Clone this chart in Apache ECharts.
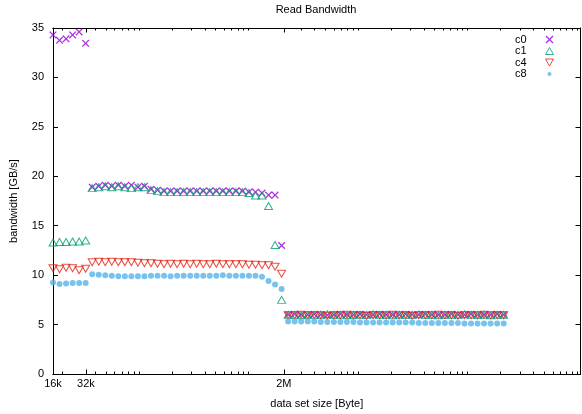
<!DOCTYPE html>
<html><head><meta charset="utf-8">
<script src="https://cdn.jsdelivr.net/npm/echarts@6/dist/echarts.min.js"></script>
<style>html,body{margin:0;padding:0;background:#fff}#c{width:582px;height:414px}</style>
</head><body><div id="c"></div>
<script>
// data set sizes [Byte]
const sizes = [16384,18796,21563,24737,28378,32555,37347,42845,49151,56386,
  64686,74208,85132,97663,112039,128531,147451,169156,194055,222620,
  255390,292984,336111,385586,442345,507458,582155,667849,766156,878934,
  1008313,1156737,1327009,1522345,1746434,2003509,2298425,2636753,3024883,3470146,
  3980951,4566947,5239202,6010412,6895145,7910110,9074478,10410241,11942628,13700583,
  15717309,18030897,20685045,23729884,27222923,31230137,35827213,41100979,47151043,54091677,
  62053972,71188317,81667237,93688674,107479647,123300651,141450507,162272022,186158463,213561009];

const c0 = [34.3,33.75,33.9,34.3,34.6,33.45,
  18.9,19.0,19.1,19.0,19.1,19.0,19.1,18.9,19.0,18.7,18.6,18.5,18.5,18.5,
  18.5,18.5,18.5,18.5,18.5,18.5,18.5,18.5,18.5,18.5,18.4,18.4,18.3,18.1,18.1,
  13.0,
  6.0,6.05,6.0,6.0,6.05,6.0,5.95,6.0,6.05,6.0,6.0,6.05,6.0,6.0,6.05,6.0,6.0,
  6.0,6.05,6.0,6.0,6.05,6.0,6.0,6.0,6.05,6.0,6.0,6.05,6.0,6.0,6.0,6.05,6.0];
const c1 = [13.3,13.35,13.35,13.4,13.4,13.5,
  18.8,18.9,19.0,18.9,19.0,18.9,18.8,18.9,18.9,18.6,18.5,18.4,18.4,18.4,
  18.4,18.4,18.4,18.4,18.4,18.4,18.4,18.4,18.4,18.4,18.3,18.05,18.05,17.0,13.05,
  7.5,
  6.0,6.0,5.95,6.0,6.0,6.0,6.05,6.0,6.0,5.95,6.0,6.0,6.0,6.05,6.0,6.0,5.95,
  6.0,6.0,6.0,6.05,6.0,6.0,5.95,6.0,6.0,6.0,6.05,6.0,6.0,6.0,5.95,6.0,6.0];
const c4 = [10.7,10.6,10.75,10.7,10.5,10.65,
  11.3,11.35,11.3,11.35,11.3,11.3,11.3,11.25,11.2,11.2,11.15,11.1,11.15,11.1,
  11.15,11.1,11.15,11.1,11.1,11.15,11.1,11.1,11.1,11.1,11.05,11.05,11.0,11.0,10.85,
  10.15,
  5.95,5.95,6.0,5.95,5.95,5.95,5.9,5.95,5.95,6.0,5.95,5.95,5.9,5.95,5.95,5.95,6.0,
  5.95,5.95,5.9,5.95,5.95,5.95,6.0,5.95,5.95,5.9,5.95,5.95,5.95,6.0,5.95,5.95,5.95];
const c8 = [9.25,9.1,9.15,9.2,9.2,9.2,
  10.1,10.05,10.0,9.95,9.9,9.9,9.9,9.9,9.9,9.95,9.95,9.95,9.9,9.95,
  9.95,9.95,9.95,9.95,9.95,9.95,10.0,9.95,9.95,9.95,9.95,9.95,9.85,9.4,9.05,
  8.6,
  5.3,5.3,5.3,5.3,5.3,5.25,5.25,5.25,5.25,5.25,5.25,5.2,5.2,5.2,5.2,5.2,5.2,
  5.2,5.2,5.2,5.15,5.15,5.15,5.15,5.15,5.15,5.15,5.1,5.1,5.1,5.1,5.1,5.1,5.1];

const xLabelValues = [16384, 32768, 2097152];
const xLabelTexts = ['16k', '32k', '2M'];
const xMinorTicks = [2e4,4e4,5e4,6e4,7e4,8e4,9e4,1e5,
  2e5,3e5,4e5,5e5,6e5,7e5,8e5,9e5,1e6,
  3e6,4e6,5e6,6e6,7e6,8e6,9e6,1e7,
  2e7,3e7,4e7,5e7,6e7,7e7,8e7,9e7,1e8,
  2e8,3e8,4e8,5e8,6e8,7e8,8e8,9e8,1e9];
const seriesNames = ['c0', 'c1', 'c4', 'c8'];
const seriesColors = ['#9400d3', '#009e73', '#e51e10', '#56b4e9'];

const FONT = "'Liberation Sans', Arial, Helvetica, sans-serif";
const chart = echarts.init(document.getElementById('c'), null, {renderer: 'canvas'});

function fmtX(v) {
  for (let i = 0; i < xLabelValues.length; i++) {
    if (Math.abs(v - xLabelValues[i]) / xLabelValues[i] < 1e-3) return xLabelTexts[i];
  }
  return '';
}
function xAx(pos, ticks, len, labels, extra) {
  return Object.assign({
    type: 'log', logBase: 2, min: 16384, max: 1073741824, position: pos,
    axisLine: {show: true, onZero: false, lineStyle: {color: '#000', width: 1}},
    axisTick: {show: true, inside: true, length: len, customValues: ticks, lineStyle: {color: '#000', width: 1}},
    axisLabel: labels ? {show: true, customValues: xLabelValues, formatter: fmtX, color: '#000', fontSize: 11, fontFamily: FONT, margin: 4}
                      : {show: false},
    splitLine: {show: false}, minorTick: {show: false}
  }, extra || {});
}
const mk = (vals) => sizes.map((s, i) => [s, vals[i]]);
// symbols (filled X outline, open triangles)
const crossPath = 'path://M0,1.2L1.2,0L5,3.8L8.8,0L10,1.2L6.2,5L10,8.8L8.8,10L5,6.2L1.2,10L0,8.8L3.8,5Z';
const triUpPath = 'path://M4,0L8,7L0,7Z';
const triDownPath = 'path://M0,0L8,0L4,7Z';
const smallDotPath = 'path://M0,0M10,10M5,2.4A2.6,2.6,0,1,1,5,7.6A2.6,2.6,0,1,1,5,2.4Z';

chart.setOption({
  animation: false,
  backgroundColor: '#fff',
  textStyle: {fontFamily: FONT},
  title: {text: 'Read Bandwidth', left: 316, top: 4, textAlign: 'center', padding: 0,
    textStyle: {fontSize: 11, fontWeight: 'normal', color: '#000', fontFamily: FONT}},
  grid: {left: 52, right: 1.5, top: 28, bottom: 39.5, containLabel: false},
  legend: {
    orient: 'vertical', right: 28, top: 34, align: 'right', padding: 0,
    itemWidth: 8, itemHeight: 8, itemGap: 0.5,
    formatter: (name) => '{t|' + name + '}',
    textStyle: {fontSize: 11, color: '#000', fontFamily: FONT,
      rich: {t: {fontSize: 11, color: '#000', fontFamily: FONT, padding: [0, 14, 0, 0]}}},
    data: [
      {name: 'c0', icon: crossPath, itemStyle: {color: seriesColors[0], borderWidth: 0}},
      {name: 'c1', icon: triUpPath, itemStyle: {color: 'transparent', borderColor: seriesColors[1], borderWidth: 1}},
      {name: 'c4', icon: triDownPath, itemStyle: {color: 'transparent', borderColor: seriesColors[2], borderWidth: 1}},
      {name: 'c8', icon: smallDotPath, itemStyle: {color: seriesColors[3], borderWidth: 0}}
    ]
  },
  xAxis: [
    xAx('bottom', xLabelValues, 4.5, true, {name: 'data set size [Byte]', nameLocation: 'middle', nameGap: 24,
      nameTextStyle: {fontSize: 11, color: '#000', fontFamily: FONT}}),
    xAx('bottom', xMinorTicks, 2.5, false),
    xAx('top', xLabelValues, 4.5, false),
    xAx('top', xMinorTicks, 2.5, false)
  ],
  yAxis: [
    {type: 'value', min: 0, max: 35, interval: 5, position: 'left',
      axisLine: {show: true, lineStyle: {color: '#000', width: 1}},
      axisTick: {show: true, inside: true, length: 5, lineStyle: {color: '#000'}},
      axisLabel: {color: '#000', fontSize: 11, fontFamily: FONT, margin: 9},
      splitLine: {show: false},
      name: 'bandwidth [GB/s]', nameLocation: 'middle', nameGap: 34,
      nameTextStyle: {fontSize: 11, color: '#000', fontFamily: FONT}},
    {type: 'value', min: 0, max: 35, interval: 5, position: 'right',
      axisLine: {show: true, lineStyle: {color: '#000', width: 1}},
      axisTick: {show: true, inside: true, length: 5, lineStyle: {color: '#000'}},
      axisLabel: {show: false}, splitLine: {show: false}}
  ],
  series: [
    {name: 'c0', type: 'scatter', data: mk(c0), symbol: crossPath, symbolSize: 7.5,
      itemStyle: {color: seriesColors[0], borderWidth: 0}, silent: true},
    {name: 'c1', type: 'scatter', data: mk(c1), symbol: triUpPath, symbolSize: [8, 7],
      itemStyle: {color: 'transparent', borderColor: seriesColors[1], borderWidth: 1}, silent: true},
    {name: 'c4', type: 'scatter', data: mk(c4), symbol: triDownPath, symbolSize: [8, 7],
      itemStyle: {color: 'transparent', borderColor: seriesColors[2], borderWidth: 1}, silent: true},
    {name: 'c8', type: 'scatter', data: mk(c8), symbol: 'circle', symbolSize: 6,
      itemStyle: {color: seriesColors[3]}, silent: true}
  ]
});
</script>
</body></html>
